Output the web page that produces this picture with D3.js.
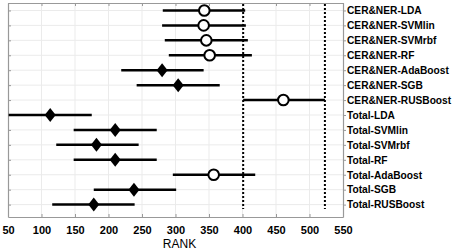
<!DOCTYPE html>
<html>
<head>
<meta charset="utf-8">
<script src="https://cdn.jsdelivr.net/npm/d3@7"></script>
<style>
  html, body { margin: 0; padding: 0; background: #fff; }
  #chart { width: 459px; height: 251px; }
  text { font-family: Arial, "Liberation Sans", sans-serif; }
</style>
</head>
<body>
<div id="chart"></div>
<script>
// group comparison of ranks (multcompare style)
const groups = [
  'CER&NER-LDA', 'CER&NER-SVMlin', 'CER&NER-SVMrbf', 'CER&NER-RF',
  'CER&NER-AdaBoost', 'CER&NER-SGB', 'CER&NER-RUSBoost',
  'Total-LDA', 'Total-SVMlin', 'Total-SVMrbf', 'Total-RF',
  'Total-AdaBoost', 'Total-SGB', 'Total-RUSBoost'
];
const meanRank = [343, 342, 346, 351, 280, 304, 461, 113, 210, 182, 210, 357, 238, 178];
const lowerRank = [281, 280, 284, 290, 219, 242, 401, 51, 148, 122, 148, 296, 178, 116];
const upperRank = [404, 405, 408, 414, 342, 366, 523, 175, 272, 245, 272, 419, 301, 239];
// groups not significantly different from the selected one drawn as circles
const sameAsRef = [true, true, true, true, false, false, true, false, false, false, false, true, false, false];
const refBounds = [401, 523];
const xTicks = [50, 100, 150, 200, 250, 300, 350, 400, 450, 500, 550];

const margin = { top: 3, right: 116, bottom: 34, left: 8 };
const fullWidth = 459, fullHeight = 251;
const width = fullWidth - margin.left - margin.right;
const height = fullHeight - margin.top - margin.bottom;

const svg = d3.select('#chart').append('svg')
  .attr('width', fullWidth)
  .attr('height', fullHeight)
  .append('g')
  .attr('transform', `translate(${margin.left},${margin.top})`);

const x = d3.scaleLinear().domain([50, 550]).range([0, width]);
const y = d3.scaleLinear().domain([0.5, 14.83]).range([0, height]);
const rows = groups.map((g, i) => ({
  name: g, row: i + 1, mean: meanRank[i], lo: lowerRank[i], hi: upperRank[i], same: sameAsRef[i]
}));

// grid
svg.append('g').selectAll('line.gx')
  .data(xTicks.slice(1, -1))
  .join('line')
    .attr('x1', d => x(d)).attr('x2', d => x(d))
    .attr('y1', 0).attr('y2', height)
    .attr('stroke', '#ebebeb').attr('stroke-width', 1);
svg.append('g').selectAll('line.gy')
  .data(rows)
  .join('line')
    .attr('x1', 0).attr('x2', width)
    .attr('y1', d => y(d.row)).attr('y2', d => y(d.row))
    .attr('stroke', '#ebebeb').attr('stroke-width', 1);

// axes
const xAxis = svg.append('g')
  .attr('transform', `translate(0,${height})`)
  .call(d3.axisBottom(x).tickValues(xTicks).tickSizeInner(-3).tickSizeOuter(0).tickPadding(9));
const xTop = svg.append('g')
  .call(d3.axisTop(x).tickValues(xTicks).tickSizeInner(-3).tickSizeOuter(0).tickFormat(''));
const yLeft = svg.append('g')
  .call(d3.axisLeft(y).tickValues(rows.map(d => d.row)).tickSizeInner(-3).tickSizeOuter(0).tickFormat(''));
const yRight = svg.append('g')
  .attr('transform', `translate(${width},0)`)
  .call(d3.axisRight(y).tickValues(rows.map(d => d.row)).tickSizeInner(3).tickSizeOuter(0)
    .tickPadding(1).tickFormat(v => groups[v - 1]));

[xAxis, xTop, yLeft, yRight].forEach(a => {
  a.selectAll('.domain').attr('stroke', '#999').attr('stroke-width', 1.2);
  a.selectAll('.tick line').attr('stroke', '#999');
  a.selectAll('text').attr('fill', '#000').style('font-size', '10.2px').style('font-weight', 'bold');
});
xAxis.selectAll('text').style('font-size', '11px');

// reference interval (dotted)
svg.append('g').selectAll('line.ref')
  .data(refBounds)
  .join('line')
    .attr('x1', d => x(d)).attr('x2', d => x(d))
    .attr('y1', 1).attr('y2', y(14.3))
    .attr('stroke', '#000').attr('stroke-width', 2)
    .attr('stroke-dasharray', '2,2');

// intervals
svg.append('g').selectAll('line.ci')
  .data(rows)
  .join('line')
    .attr('x1', d => x(d.lo)).attr('x2', d => x(d.hi))
    .attr('y1', d => y(d.row)).attr('y2', d => y(d.row))
    .attr('stroke', '#000').attr('stroke-width', 2.5);

// markers
svg.append('g').selectAll('circle')
  .data(rows.filter(d => d.same))
  .join('circle')
    .attr('cx', d => x(d.mean)).attr('cy', d => y(d.row))
    .attr('r', 5.3)
    .attr('fill', '#fff').attr('stroke', '#000').attr('stroke-width', 2);

svg.append('g').selectAll('path.dia')
  .data(rows.filter(d => !d.same))
  .join('path')
    .attr('d', 'M0,-7L5.5,0L0,7L-5.5,0Z')
    .attr('transform', d => `translate(${x(d.mean)},${y(d.row)})`)
    .attr('fill', '#000');

// axis label
svg.append('text')
  .attr('x', width / 2 + 4).attr('y', height + 31)
  .attr('text-anchor', 'middle')
  .style('font-size', '12px')
  .text('RANK');
</script>
</body>
</html>
